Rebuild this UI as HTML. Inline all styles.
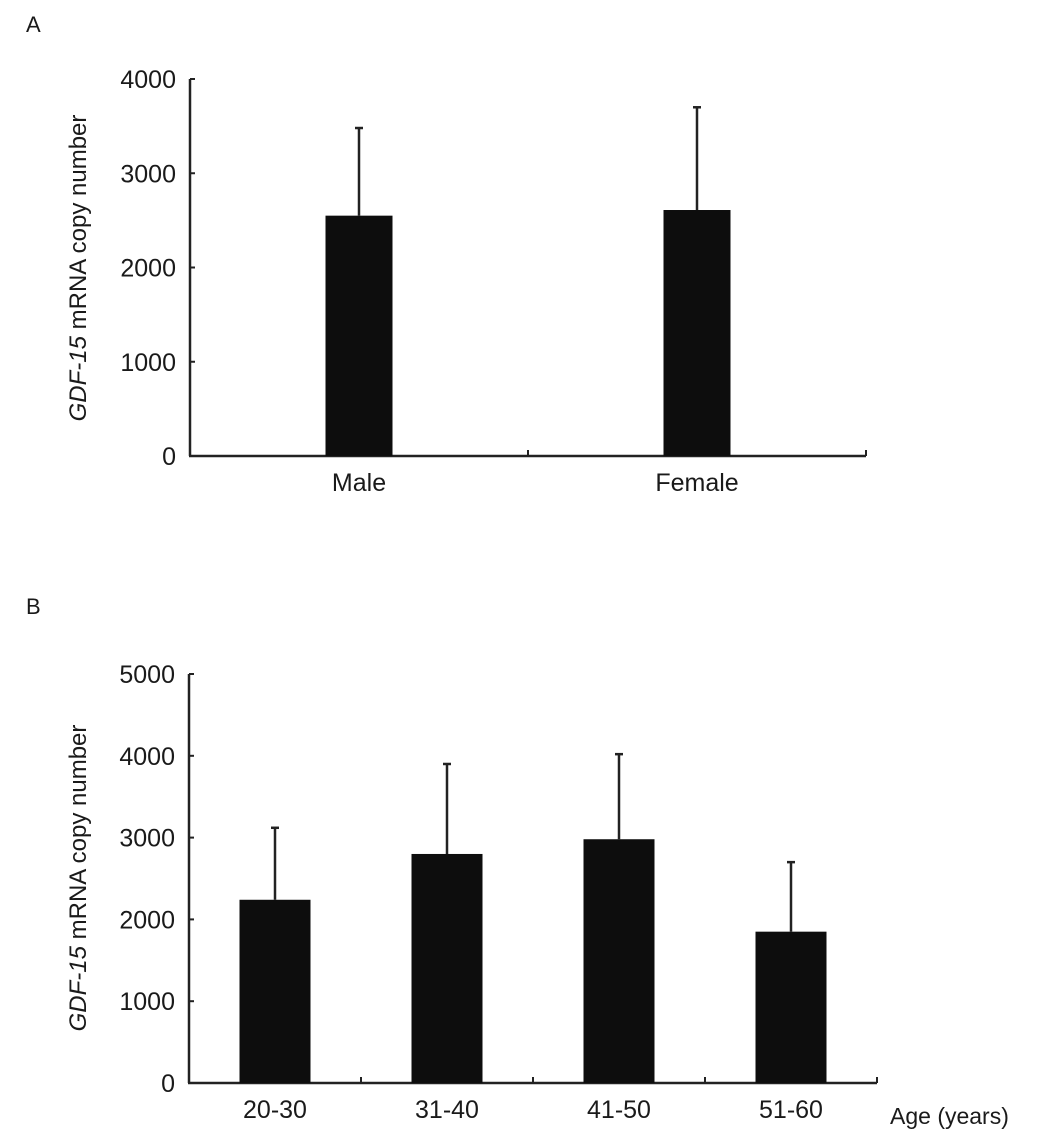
<!DOCTYPE html>
<html><head><meta charset="utf-8"><style>
body{margin:0;background:#fff;}
svg text{font-family:"Liberation Sans",Arial,sans-serif;fill:#1a1a1a;}
</style></head><body>
<svg id="s" width="1063" height="1133" viewBox="0 0 1063 1133">
<text x="26" y="32" font-size="22">A</text>
<text x="26" y="614" font-size="22">B</text>
<text transform="translate(86,268) rotate(-90)" text-anchor="middle" font-size="24"><tspan font-style="italic">GDF-15</tspan> mRNA copy number</text>
<text transform="translate(86,878) rotate(-90)" text-anchor="middle" font-size="24"><tspan font-style="italic">GDF-15</tspan> mRNA copy number</text>
<text x="890" y="1124" font-size="23">Age (years)</text>
<g id="ga"></g><g id="gb"></g>
</svg>
<script>
const catsA=["Male","Female"];
const meanA=[2550,2610];
const errA=[3480,3700];
const ticksA=[0,1000,2000,3000,4000];
const catsB=["20-30","31-40","41-50","51-60"];
const meanB=[2240,2800,2980,1850];
const errB=[3120,3900,4020,2700];
const ticksB=[0,1000,2000,3000,4000,5000];
const NS="http://www.w3.org/2000/svg";
function mk(p,t,a){const e=document.createElementNS(NS,t);for(const k in a)e.setAttribute(k,a[k]);p.appendChild(e);return e;}
function panel(g,cats,mean,err,ticks,x0,x1,y0,yTop,maxV,barW,pfx){
  const y=v=>y0-(v/maxV)*(y0-yTop);
  const gw=(x1-x0)/cats.length;
  const yl=mk(g,'line',{x1:x0,x2:x0,y1:y0,y2:yTop,stroke:'#222','stroke-width':2.5});
  
  
  const xl=mk(g,'line',{x1:x0-1,x2:x1,y1:y0,y2:y0,stroke:'#222','stroke-width':2.5});
  
  
  ticks.forEach(t=>{
    mk(g,'line',{x1:x0,x2:x0+5,y1:y(t),y2:y(t),stroke:'#222','stroke-width':2});
    const tx=mk(g,'text',{x:x0-14,y:y(t)+9,'text-anchor':'end','font-size':25});
    tx.textContent=t;
    
    
  });
  for(let i=1;i<=cats.length;i++){const xx=x0+gw*i;mk(g,'line',{x1:xx,x2:xx,y1:y0,y2:y0-6,stroke:'#222','stroke-width':2});}
  cats.forEach((c,i)=>{
    const cx=x0+gw*(i+0.5);
    const el=mk(g,'line',{x1:cx,x2:cx,y1:y(mean[i]),y2:y(err[i]),stroke:'#222','stroke-width':2.5});
    
    
    mk(g,'line',{x1:cx-4,x2:cx+4,y1:y(err[i]),y2:y(err[i]),stroke:'#222','stroke-width':2.5});
    const r=mk(g,'rect',{x:cx-barW/2,y:y(mean[i]),width:barW,height:y0-y(mean[i]),fill:'#0d0d0d'});
    
    
    const lb=mk(g,'text',{x:cx,y:y0+35,'text-anchor':'middle','font-size':25});
    lb.textContent=c;
    
    
  });
}
panel(document.getElementById('ga'),catsA,meanA,errA,ticksA,190,866,456,79,4000,67,'a');
panel(document.getElementById('gb'),catsB,meanB,errB,ticksB,189,877,1083,674,5000,71,'b');
</script>
</body></html>
